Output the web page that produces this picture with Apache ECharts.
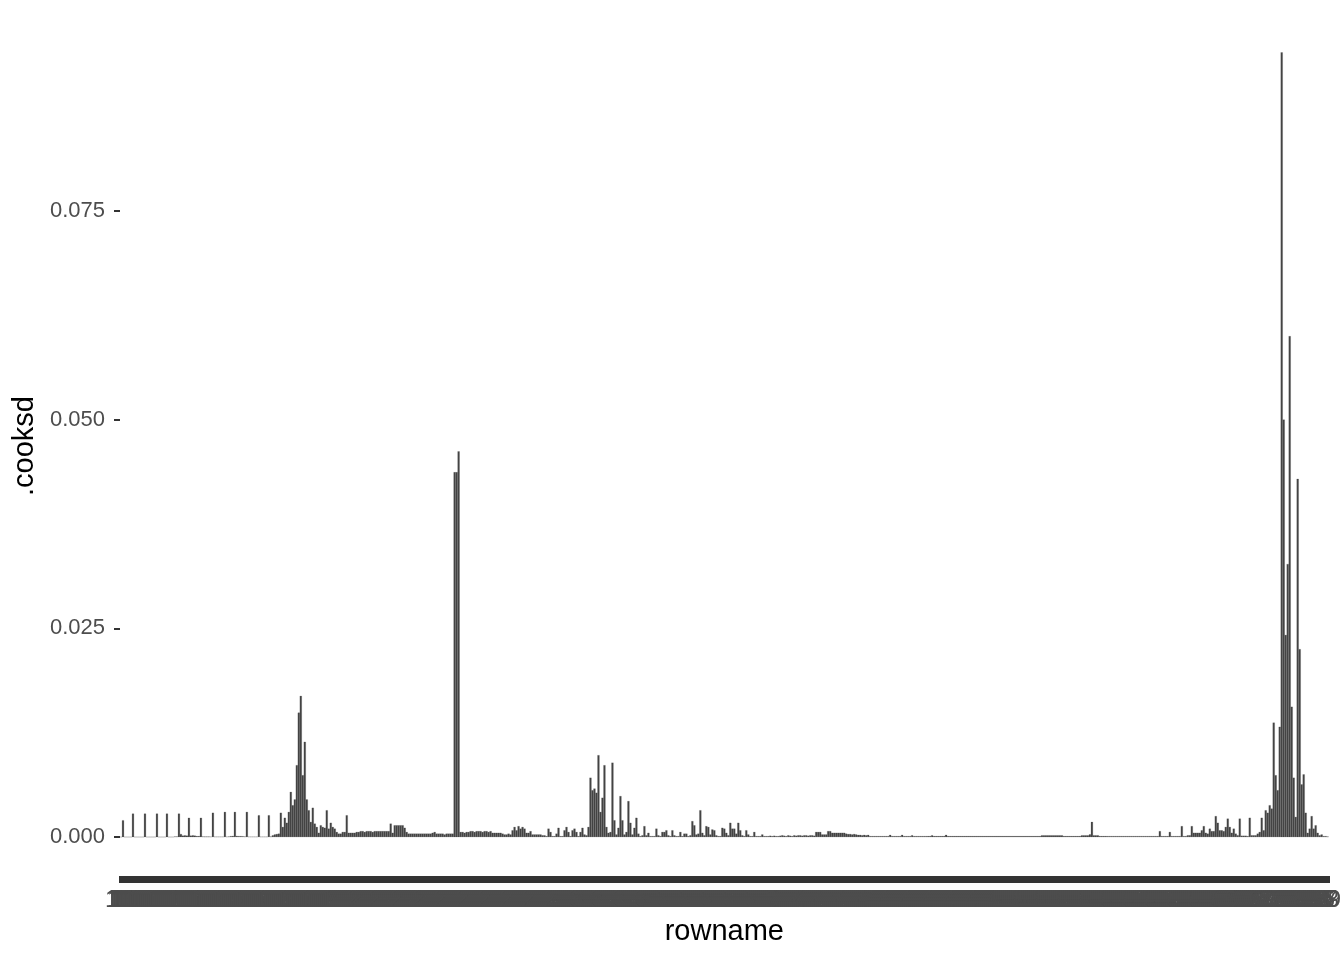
<!DOCTYPE html>
<html><head><meta charset="utf-8">
<script src="https://cdn.jsdelivr.net/npm/echarts@6/dist/echarts.min.js"></script>
<style>html,body{margin:0;padding:0;background:#fff}#chart{width:1344px;height:960px}</style>
</head><body><div id="chart"></div>
<script>
// Row names (ggplot orders the character rownames alphabetically)
const N_ROWS = 605;
const rownames = Array.from({length: N_ROWS}, (_, i) => String(i + 1)).sort();

// Cook's distance per row, in units of 1e-4
const cooksdE4 = [
  0,20,0,0,0,0,28,0,0,0,
  0,0,28,0,0,0,0,0,28,0,
  0,0,0,28,0,0,0,0.5,0.5,28,
  3.5,1.5,2,1.5,23,1.5,2,1.5,1,1,
  23,0.5,0.3,0.3,0.3,0.3,29,0.3,0.3,0.3,
  0.3,0.3,30,0.3,0.5,1,1.2,30,1.2,1,
  1,0.8,0.5,30,0.3,0.3,0.3,0.3,0.3,26,
  0.3,0.3,0.3,0.3,26,0.5,2,3,3.5,4,
  29,12,23,17,30,54,38,45,86,149,
  169,74,114,45,32,18,35,16,12,5,
  14,12,11,32,10,17,12,10,6,4,
  4,6,6,26,5,5,5,5,6,6,
  7,7,6,7,7,7,6,7,7,7,
  7,7,7,7,7,16,5,14,14,14,
  14,14,11,6,4,4,4,4,4,4,
  4,4,4,4,4,4,5,6,4,4,
  4,4,3,4,4,4,4,437,437,462,
  6,6,5,6,6,7,7,6,7,7,
  7,6,7,7,6,7,5,5,5,5,
  5,4,3,3,4,3,8,12,8,13,
  10,12,10,5,5,7,3,3,3,3,
  3,2,2,1,10,6,1,1,4,11,
  1,1,8,12,6,1,8,10,6,1,
  6,11,3,2,12,71,56,58,53,98,
  30,47,86,12,5,6,89,20,3,11,
  49,20,3,6,43,17,3,11,23,4,
  1,2,13,2,5,1,1,1,10,2,
  1,6,6,8,2,1,8,2,1,1,
  6,1,4,4,1,2,19,14,3,4,
  32,5,2,13,12,3,9,8,2,1,
  1,11,10,5,2,17,10,10,4,17,
  8,2,1,8,3,1,1,6,1,1,
  1,3,1,1,1,1.5,1,1.5,1,1,
  1.5,2,1.5,1,2,1.5,1,2,1.5,2,
  2,1.5,2,2,1.5,2,2,1.5,6,6,
  6,3,3,3,7,7,5,5,5,5,
  5,5,5,4,3.5,3.5,3,3.5,3,2.5,
  2.5,2,2.5,2,2.5,1,1,1,1,1,
  1,1,1,1,1,2.5,1,1,1,1,
  1,2.5,1,1,1,1,2,1,1,1,
  1,1,1,1,1,1,2,1,1,1,
  1,1,1,2.5,1,1,1,1,1,1,
  1,1,1,1,1,1,1,1,1,1,
  1,1,1,1,1,1,1,1,1,1,
  1,1,1,1,1,1,1,1,1,1,
  1,1,1,1,1,1,1,1,1,1,
  1,2,2,2,2,2,2,2,2,2,
  2,2,1,1,1,1,1,1,1,1,
  1,2,2,2,2,3,18,2,2,2,
  1,1,1,1,1,1,1,1,1,1,
  1,1,1,1,1,1,1,1,1,1,
  1,1,1,1,1,1,1,1,1,1,
  7,1,1,1,1,6,1,1,1,1,
  1,13,1,1,2,2,13,5,5,5,
  5,8,13,5,4,10,7,7,25,17,
  8,8,7,12,22,12,5,10,4,2,
  22,1.5,1.5,1.5,1,23,2,2,2,4,
  6,23,8,32,29,38,34,137,74,56,
  132,940,500,242,327,600,156,71,24,429,
  225,63,75,29,5,10,25,10,14,5,
  2,3,1,1,0.5
];

const yTicks = [0, 0.025, 0.05, 0.075];

const cooksd = cooksdE4.map(v => v / 1e4);
const FONT = '"Liberation Sans", Arial, Helvetica, sans-serif';

const chart = echarts.init(document.getElementById('chart'), null, {renderer: 'canvas'});
chart.setOption({
  animation: false,
  backgroundColor: '#ffffff',
  textStyle: {fontFamily: FONT},
  grid: {left: 120, right: 14, top: 16, bottom: 84, containLabel: false},
  xAxis: {
    type: 'category',
    data: rownames,
    name: 'rowname',
    nameLocation: 'middle',
    nameGap: 41,
    nameTextStyle: {fontSize: 29, color: '#000000', fontFamily: FONT},
    axisLine: {show: false, onZero: false},
    axisTick: {show: true, interval: 0, length: 7, lineStyle: {color: '#333333', width: 2}},
    axisLabel: {interval: 0, fontSize: 24, color: '#4d4d4d', margin: 12, fontFamily: FONT},
    splitLine: {show: false}
  },
  yAxis: {
    type: 'value',
    min: -0.00467,
    max: 0.09836,
    name: '.cooksd',
    nameLocation: 'middle',
    nameGap: 65,
    nameRotate: 90,
    nameTextStyle: {fontSize: 29, color: '#000000', fontFamily: FONT},
    axisLine: {show: false},
    axisTick: {show: true, length: 6, lineStyle: {color: '#333333', width: 2}, customValues: yTicks},
    axisLabel: {customValues: yTicks, formatter: v => v.toFixed(3), fontSize: 22, color: '#4d4d4d', margin: 15, fontFamily: FONT},
    splitLine: {show: false}
  },
  series: [{
    type: 'bar',
    data: cooksd,
    barCategoryGap: '0%',
    itemStyle: {color: '#444444', borderColor: '#444444', borderWidth: 0.2}
  }]
});
</script>
</body></html>
